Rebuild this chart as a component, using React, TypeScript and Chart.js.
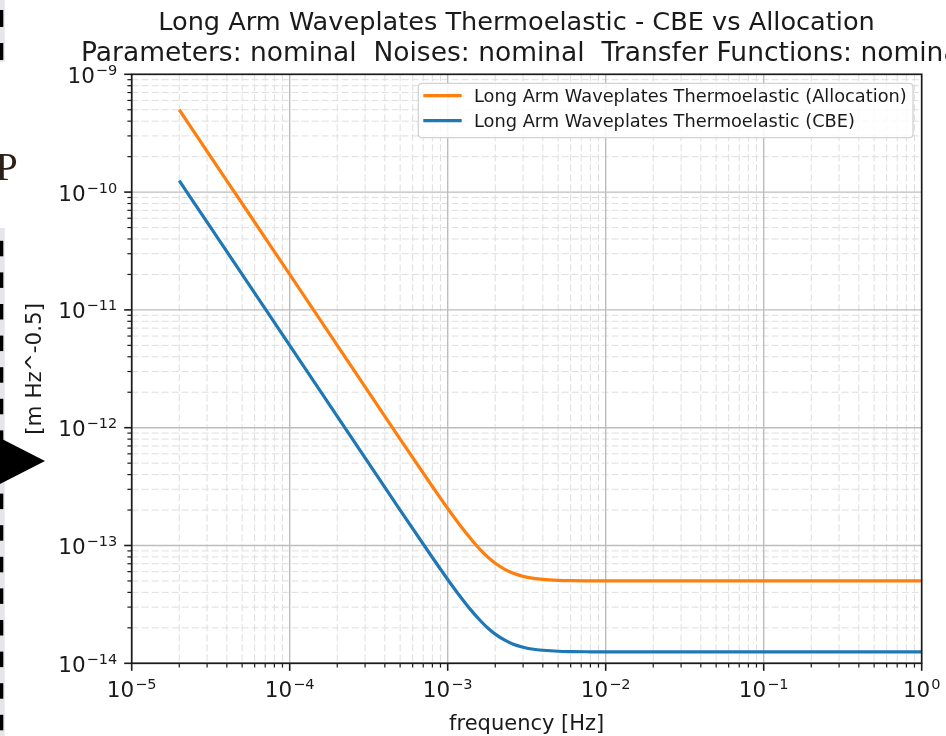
import React, { useEffect, useRef } from 'react';
import { Chart, registerables } from 'chart.js';

Chart.register(...registerables);

// ---------------- data ----------------
const FREQ = [
  2e-5, 3e-5, 5e-5, 1e-4, 2e-4, 5e-4, 8e-4, 1e-3, 1.2e-3, 1.4e-3, 1.6e-3, 1.8e-3,
  2e-3, 2.3e-3, 2.6e-3, 3e-3, 3.5e-3, 4e-3, 5e-3, 6e-3, 8e-3, 1e-2, 1e-1, 1,
];
const ALLOCATION = [
  5.0e-10, 2.22e-10, 8.0e-11, 2.0e-11, 5.0e-12, 8.0e-13, 3.17e-13, 2.06e-13, 1.48e-13, 1.14e-13, 9.27e-14, 7.94e-14,
  7.07e-14, 6.27e-14, 5.81e-14, 5.47e-14, 5.26e-14, 5.15e-14, 5.06e-14, 5.03e-14, 5.01e-14, 5.0e-14, 5.0e-14, 5.0e-14,
];
const CBE = [
  1.25e-10, 5.55e-11, 2.0e-11, 5.0e-12, 1.25e-12, 2.0e-13, 7.91e-14, 5.15e-14, 3.69e-14, 2.84e-14, 2.32e-14, 1.985e-14,
  1.77e-14, 1.57e-14, 1.45e-14, 1.37e-14, 1.315e-14, 1.29e-14, 1.265e-14, 1.257e-14, 1.252e-14, 1.25e-14, 1.25e-14, 1.25e-14,
];
const SERIES_LABELS = [
  'Long Arm Waveplates Thermoelastic (Allocation)',
  'Long Arm Waveplates Thermoelastic (CBE)',
];
const SERIES_COLORS = ['#ff7f0e', '#1f77b4'];

const X_MAJOR = [1e-5, 1e-4, 1e-3, 1e-2, 1e-1, 1];
const X_MAJOR_EXP = ['\u22125', '\u22124', '\u22123', '\u22122', '\u22121', '0'];
const Y_MAJOR = [1e-14, 1e-13, 1e-12, 1e-11, 1e-10, 1e-9];
const Y_MAJOR_EXP = ['\u221214', '\u221213', '\u221212', '\u221211', '\u221210', '\u22129'];
const MINOR_MULT = [2, 3, 4, 5, 6, 7, 8, 9];

const TITLE_LINES = [
  'Long Arm Waveplates Thermoelastic - CBE vs Allocation',
  'Parameters: nominal  Noises: nominal  Transfer Functions: nominal',
];
const X_TITLE = 'frequency [Hz]';
const Y_TITLE = '[m Hz^-0.5]';

// ---------------- helpers ----------------
const FONT = "'DejaVu Sans', sans-serif";
const TEXT = '#1a1a1a';

function minorsOf(majors: number[]): number[] {
  const out: number[] = [];
  for (let i = 0; i < majors.length - 1; i++) {
    for (const m of MINOR_MULT) out.push(majors[i] * m);
  }
  return out;
}

function drawPow(ctx: CanvasRenderingContext2D, anchorX: number, baseline: number, exp: string, align: 'center' | 'right') {
  const main = `21.5px ${FONT}`;
  const sup = `14.5px ${FONT}`;
  ctx.font = main;
  const wb = ctx.measureText('10').width;
  ctx.font = sup;
  const we = ctx.measureText(exp).width;
  const gap = 1;
  const total = wb + gap + we;
  const x0 = align === 'center' ? anchorX - total / 2 : anchorX - total;
  ctx.textAlign = 'left';
  ctx.textBaseline = 'alphabetic';
  ctx.fillStyle = TEXT;
  ctx.font = main;
  ctx.fillText('10', x0, baseline);
  ctx.font = sup;
  ctx.fillText(exp, x0 + wb + gap, baseline - 8);
}

const decorPlugin = {
  id: 'decor',
  beforeDatasetsDraw(chart: any) {
    const { ctx, chartArea: a, scales } = chart;
    const xs = scales.x;
    const ys = scales.y;
    ctx.save();
    ctx.beginPath();
    ctx.rect(a.left, a.top, a.right - a.left, a.bottom - a.top);
    ctx.clip();
    // minor grid
    ctx.strokeStyle = '#dedede';
    ctx.lineWidth = 1;
    ctx.setLineDash([7, 3]);
    for (const v of minorsOf(X_MAJOR)) {
      const p = xs.getPixelForValue(v);
      ctx.beginPath();
      ctx.moveTo(p, a.top);
      ctx.lineTo(p, a.bottom);
      ctx.stroke();
    }
    for (const v of minorsOf(Y_MAJOR)) {
      const p = ys.getPixelForValue(v);
      ctx.beginPath();
      ctx.moveTo(a.left, p);
      ctx.lineTo(a.right, p);
      ctx.stroke();
    }
    // major grid
    ctx.setLineDash([]);
    ctx.strokeStyle = '#bdbdbd';
    ctx.lineWidth = 1.4;
    for (const v of X_MAJOR) {
      const p = xs.getPixelForValue(v);
      ctx.beginPath();
      ctx.moveTo(p, a.top);
      ctx.lineTo(p, a.bottom);
      ctx.stroke();
    }
    for (const v of Y_MAJOR) {
      const p = ys.getPixelForValue(v);
      ctx.beginPath();
      ctx.moveTo(a.left, p);
      ctx.lineTo(a.right, p);
      ctx.stroke();
    }
    ctx.restore();
  },
  afterDatasetsDraw(chart: any) {
    const { ctx, chartArea: a, scales } = chart;
    const xs = scales.x;
    const ys = scales.y;
    ctx.save();

    // spines
    ctx.strokeStyle = '#1a1a1a';
    ctx.lineWidth = 1.7;
    ctx.strokeRect(a.left, a.top, a.right - a.left, a.bottom - a.top);

    // ticks
    ctx.lineWidth = 1.6;
    for (const v of X_MAJOR) {
      const p = xs.getPixelForValue(v);
      ctx.beginPath(); ctx.moveTo(p, a.bottom); ctx.lineTo(p, a.bottom + 7.5); ctx.stroke();
    }
    for (const v of Y_MAJOR) {
      const p = ys.getPixelForValue(v);
      ctx.beginPath(); ctx.moveTo(a.left, p); ctx.lineTo(a.left - 7.5, p); ctx.stroke();
    }
    ctx.lineWidth = 1.2;
    for (const v of minorsOf(X_MAJOR)) {
      const p = xs.getPixelForValue(v);
      ctx.beginPath(); ctx.moveTo(p, a.bottom); ctx.lineTo(p, a.bottom + 4.3); ctx.stroke();
    }
    for (const v of minorsOf(Y_MAJOR)) {
      const p = ys.getPixelForValue(v);
      ctx.beginPath(); ctx.moveTo(a.left, p); ctx.lineTo(a.left - 4.3, p); ctx.stroke();
    }

    // tick labels
    X_MAJOR.forEach((v, i) => {
      drawPow(ctx, xs.getPixelForValue(v), a.bottom + 34, X_MAJOR_EXP[i], 'center');
    });
    Y_MAJOR.forEach((v, i) => {
      drawPow(ctx, a.left - 14.5, ys.getPixelForValue(v) + 8.4, Y_MAJOR_EXP[i], 'right');
    });

    // axis titles
    ctx.fillStyle = TEXT;
    ctx.font = `21px ${FONT}`;
    ctx.textAlign = 'center';
    ctx.textBaseline = 'alphabetic';
    ctx.fillText(X_TITLE, (a.left + a.right) / 2, 729.5);
    ctx.save();
    ctx.translate(40.5, (a.top + a.bottom) / 2);
    ctx.rotate(-Math.PI / 2);
    ctx.font = `21.5px ${FONT}`;
    ctx.fillText(Y_TITLE, 0, 0);
    ctx.restore();

    // title
    ctx.textAlign = 'center';
    ctx.font = `25.6px ${FONT}`;
    ctx.fillText(TITLE_LINES[0], 516.5, 30);
    ctx.font = `26.5px ${FONT}`;
    ctx.fillText(TITLE_LINES[1], 524, 60.7);

    // legend
    const lx = 418.3, ly = 83.3, lw = 494.7, lh = 54.4, r = 4;
    ctx.beginPath();
    ctx.moveTo(lx + r, ly);
    ctx.lineTo(lx + lw - r, ly);
    ctx.quadraticCurveTo(lx + lw, ly, lx + lw, ly + r);
    ctx.lineTo(lx + lw, ly + lh - r);
    ctx.quadraticCurveTo(lx + lw, ly + lh, lx + lw - r, ly + lh);
    ctx.lineTo(lx + r, ly + lh);
    ctx.quadraticCurveTo(lx, ly + lh, lx, ly + lh - r);
    ctx.lineTo(lx, ly + r);
    ctx.quadraticCurveTo(lx, ly, lx + r, ly);
    ctx.closePath();
    ctx.fillStyle = 'rgba(255,255,255,0.85)';
    ctx.fill();
    ctx.strokeStyle = '#d2d2d2';
    ctx.lineWidth = 1.3;
    ctx.stroke();
    const rows = [95.7, 120.7];
    SERIES_LABELS.forEach((lab, i) => {
      const yy = rows[i];
      ctx.strokeStyle = SERIES_COLORS[i];
      ctx.lineWidth = 3.2;
      ctx.beginPath();
      ctx.moveTo(423.3, yy);
      ctx.lineTo(461.7, yy);
      ctx.stroke();
      ctx.fillStyle = TEXT;
      ctx.font = `17.8px ${FONT}`;
      ctx.textAlign = 'left';
      ctx.textBaseline = 'alphabetic';
      ctx.fillText(lab, 474, yy + 6.6);
    });

    ctx.restore();
  },
  afterDraw(chart: any) {
    const { ctx } = chart;
    ctx.save();
    // left page-edge decoration (dashed strip)
    ctx.fillStyle = '#e6e6ea';
    ctx.fillRect(0, 0, 4.7, 62);
    ctx.fillRect(0, 228, 4.7, 736 - 228);
    ctx.fillStyle = '#000';
    ctx.fillRect(0, 10, 3.3, 17);
    ctx.fillRect(0, 43, 3.3, 17);
    for (let y0 = 620 - 12 * 31.6; y0 < 736; y0 += 31.6) {
      ctx.fillRect(0, y0, 3.3, 15.5);
    }
    // triangle marker
    ctx.beginPath();
    ctx.moveTo(0, 438);
    ctx.lineTo(45, 461);
    ctx.lineTo(0, 484);
    ctx.closePath();
    ctx.fill();
    // serif letter
    ctx.fillStyle = '#2a2018';
    ctx.font = "40px 'Liberation Serif', serif";
    ctx.textAlign = 'left';
    ctx.textBaseline = 'alphabetic';
    ctx.fillText('P', -4.5, 180);
    ctx.restore();
  },
};

export default function App() {
  const ref = useRef<HTMLCanvasElement | null>(null);
  useEffect(() => {
    if (!ref.current) return;
    const chart = new Chart(ref.current, {
      type: 'line',
      data: {
        datasets: [
          {
            label: SERIES_LABELS[0],
            data: FREQ.map((f, i) => ({ x: f, y: ALLOCATION[i] })),
            borderColor: SERIES_COLORS[0],
            backgroundColor: SERIES_COLORS[0],
            borderWidth: 3.2,
            pointRadius: 0,
            fill: false,
            cubicInterpolationMode: 'monotone',
          },
          {
            label: SERIES_LABELS[1],
            data: FREQ.map((f, i) => ({ x: f, y: CBE[i] })),
            borderColor: SERIES_COLORS[1],
            backgroundColor: SERIES_COLORS[1],
            borderWidth: 3.2,
            pointRadius: 0,
            fill: false,
            cubicInterpolationMode: 'monotone',
          },
        ],
      },
      options: {
        responsive: false,
        animation: false,
        devicePixelRatio: 1,
        events: [],
        layout: { padding: { left: 131.7, right: 24.3, top: 74.3, bottom: 72.7 } },
        scales: {
          x: { type: 'logarithmic', min: 1e-5, max: 1, display: false },
          y: { type: 'logarithmic', min: 1e-14, max: 1e-9, display: false },
        },
        plugins: {
          legend: { display: false },
          title: { display: false },
          tooltip: { enabled: false },
        },
      },
      plugins: [decorPlugin],
    } as any);
    return () => chart.destroy();
  }, []);
  return (
    <div style={{ position: 'fixed', left: 0, top: 0, width: 946, height: 736, overflow: 'hidden', background: '#fff' }}>
      <canvas ref={ref} width={946} height={736} style={{ display: 'block', width: 946, height: 736 }} />
    </div>
  );
}
